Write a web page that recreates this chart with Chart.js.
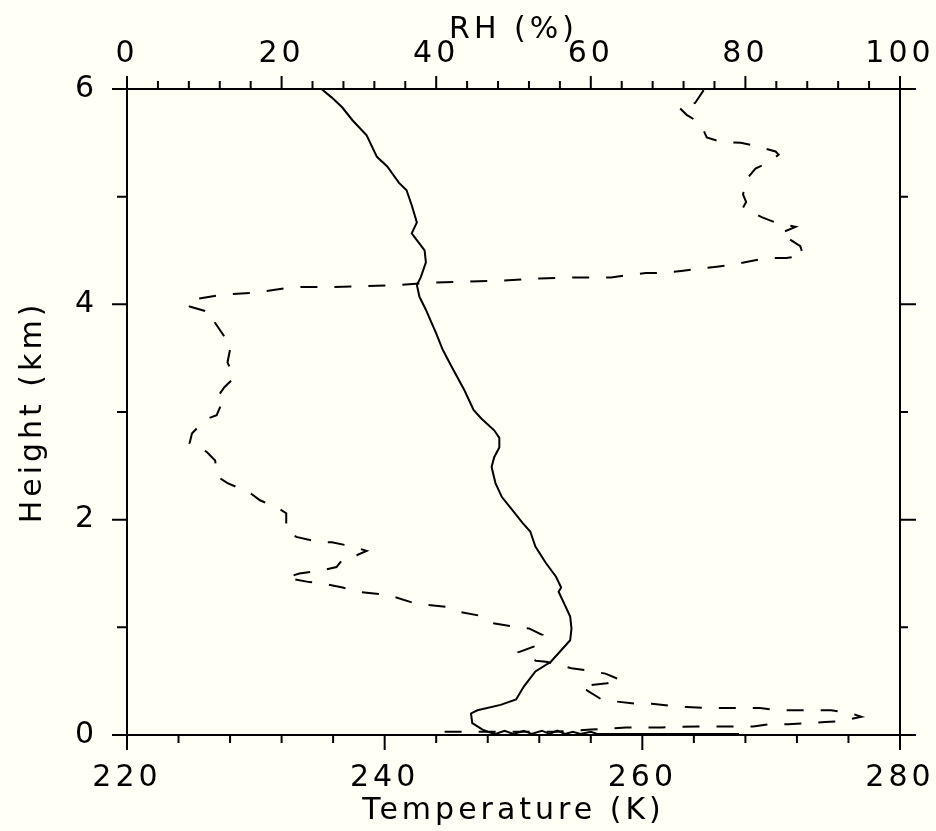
<!DOCTYPE html>
<html>
<head>
<meta charset="utf-8">
<script src="https://cdn.jsdelivr.net/npm/chart.js@4.4.1/dist/chart.umd.min.js"></script>
<style>
  html, body { margin: 0; padding: 0; background: #fffff5; }
  #wrap { width: 936px; height: 831px; }
</style>
</head>
<body>
<div id="wrap"><canvas id="profileChart" width="936" height="831"></canvas></div>
<script>
// temperature profile (solid line): height in km, temperature in K
var tempHeight = [6.0, 5.92, 5.83, 5.71, 5.57, 5.37, 5.28, 5.13, 5.06, 4.92, 4.76, 4.66, 4.50, 4.39, 4.25, 4.18, 4.07, 3.95, 3.84, 3.73,
                  3.58, 3.42, 3.20, 3.02, 2.94, 2.83, 2.76, 2.67, 2.58, 2.49, 2.34, 2.21, 2.09, 1.97, 1.89, 1.75, 1.60, 1.47, 1.37, 1.33,
                  1.23, 1.10, 0.99, 0.88, 0.68, 0.59, 0.45, 0.33, 0.28, 0.23, 0.20, 0.11, 0.05, 0.03, 0.01, 0.04, 0.01, 0.04, 0.01, 0.04,
                  0.01, 0.04, 0.01, 0.03, 0.01, 0.03, 0.01, 0.01];
var tempK = [235.1, 235.9, 236.7, 237.5, 238.6, 239.4, 240.2, 241.1, 241.7, 242.1, 242.5, 242.1, 243.1, 243.2, 242.8, 242.5, 242.7, 243.2, 243.6, 244.0,
             244.5, 245.2, 246.2, 246.9, 247.5, 248.5, 248.9, 248.9, 248.5, 248.3, 248.6, 249.1, 249.9, 250.7, 251.3, 251.7, 252.5, 253.3, 253.7, 253.5,
             253.9, 254.4, 254.5, 254.4, 252.9, 251.7, 250.8, 250.2, 249.0, 247.2, 246.7, 246.8, 247.6, 248.0, 248.6, 249.3, 250.0, 250.8, 251.4, 252.2,
             252.8, 253.4, 254.0, 254.6, 255.2, 256.0, 256.5, 267.5];

// relative humidity profile (dashed line): height in km, RH in %
var rhHeight = [5.99, 5.87, 5.83, 5.76, 5.68, 5.55, 5.51, 5.50, 5.47, 5.42, 5.39, 5.32, 5.26, 5.15, 5.02, 4.95, 4.90, 4.81, 4.76, 4.72,
                4.66, 4.54, 4.45, 4.43, 4.43, 4.40, 4.37, 4.35, 4.33, 4.31, 4.29, 4.29, 4.27, 4.25, 4.25, 4.24, 4.22, 4.21, 4.20, 4.18,
                4.17, 4.16, 4.16, 4.11, 4.09, 4.05, 4.00, 3.98, 3.92, 3.86, 3.70, 3.64, 3.46, 3.32, 3.23, 3.13, 3.09, 2.97, 2.93, 2.80,
                2.71, 2.63, 2.55, 2.40, 2.34, 2.25, 2.18, 2.11, 2.06, 1.90, 1.84, 1.79, 1.79, 1.75, 1.71, 1.67, 1.63, 1.56, 1.53, 1.50,
                1.46, 1.42, 1.41, 1.37, 1.33, 1.31, 1.29, 1.23, 1.21, 1.19, 1.14, 1.11, 1.04, 1.01, 0.99, 0.93, 0.88, 0.82, 0.77, 0.69,
                0.68, 0.62, 0.60, 0.57, 0.51, 0.48, 0.46, 0.44, 0.42, 0.33, 0.31, 0.29, 0.29, 0.27, 0.26, 0.25, 0.25, 0.25, 0.25, 0.23,
                0.23, 0.23, 0.23, 0.20, 0.17, 0.13, 0.12, 0.11, 0.10, 0.10, 0.08, 0.08, 0.08, 0.07, 0.07, 0.05, 0.03, 0.03, 0.03, 0.03];
var rhPct = [74.6, 73.5, 71.4, 72.4, 74.2, 75.0, 76.8, 79.4, 81.4, 83.9, 84.3, 83.0, 81.3, 80.0, 79.7, 80.1, 79.7, 82.1, 83.9, 86.5,
             84.5, 87.1, 87.5, 85.3, 82.7, 80.6, 78.5, 76.3, 73.9, 71.7, 69.2, 67.1, 64.6, 62.6, 58.1, 53.3, 48.5, 43.9, 39.1, 35.2,
             31.0, 26.2, 21.4, 16.8, 12.4, 9.0, 7.7, 8.1, 11.0, 11.1, 12.6, 13.5, 13.0, 13.9, 12.6, 11.6, 12.3, 11.6, 10.1, 8.4,
             8.1, 10.3, 11.4, 11.7, 13.0, 15.9, 17.2, 19.5, 20.6, 20.6, 21.9, 24.9, 26.5, 29.2, 31.0, 29.7, 27.9, 27.1, 25.3, 22.3,
             20.6, 23.6, 25.2, 27.9, 29.7, 32.6, 34.3, 36.9, 38.7, 41.3, 43.2, 45.5, 47.2, 49.8, 52.0, 53.7, 52.4, 52.6, 50.7, 52.9,
             54.2, 57.5, 59.5, 61.9, 63.9, 62.1, 59.4, 58.7, 59.4, 61.4, 63.4, 65.8, 67.9, 70.5, 72.4, 75.0, 77.2, 79.5, 81.9, 84.3,
             86.5, 89.0, 91.1, 93.7, 95.0, 92.4, 90.3, 87.9, 85.5, 83.0, 81.0, 78.5, 73.9, 69.2, 64.6, 60.0, 55.5, 49.4, 43.9, 40.4];

// axis ranges and labelled ticks
var tempTicks = [220, 240, 260, 280];
var rhTicks = [0, 20, 40, 60, 80, 100];
var heightTicks = [0, 2, 4, 6];
var tempMinorStep = 4, rhMinorStep = 4, heightMinorStep = 1;

var FONT = { family: 'DejaVu Sans', size: 30 };
var INK = '#000000';

function points(xs, ys) {
    var out = [];
    for (var i = 0; i < xs.length; i++) out.push({ x: xs[i], y: ys[i] });
    return out;
}

// axis lines running past the corners and ticks drawn outside, like the original plot
var frameTicks = {
    id: 'frameTicks',
    beforeDraw: function (chart) {
        chart.ctx.letterSpacing = '4px';
    },
    afterDraw: function (chart) {
        var ctx = chart.ctx, a = chart.chartArea;
        var sx = chart.scales.x, sr = chart.scales.xRH, sy = chart.scales.y;
        var ext = 13, v;
        ctx.save();
        ctx.strokeStyle = INK;
        ctx.lineWidth = 2;
        ctx.beginPath();
        ctx.moveTo(a.left - ext, a.top); ctx.lineTo(a.right + ext, a.top);
        ctx.moveTo(a.left - ext, a.bottom); ctx.lineTo(a.right + ext, a.bottom);
        ctx.moveTo(a.left, a.top - ext); ctx.lineTo(a.left, a.bottom + ext);
        ctx.moveTo(a.right, a.top - ext); ctx.lineTo(a.right, a.bottom + ext);
        // bottom: temperature
        for (v = sx.min; v <= sx.max + 0.001; v += tempMinorStep) {
            var px = sx.getPixelForValue(v);
            ctx.moveTo(px, a.bottom);
            ctx.lineTo(px, a.bottom + (tempTicks.indexOf(v) >= 0 ? 15 : 8));
        }
        // top: RH
        for (v = sr.min; v <= sr.max + 0.001; v += rhMinorStep) {
            var qx = sr.getPixelForValue(v);
            ctx.moveTo(qx, a.top);
            ctx.lineTo(qx, a.top - (rhTicks.indexOf(v) >= 0 ? 13 : 8));
        }
        // left and right: height
        for (v = sy.min; v <= sy.max + 0.001; v += heightMinorStep) {
            var py = sy.getPixelForValue(v);
            var major = heightTicks.indexOf(v) >= 0;
            ctx.moveTo(a.left, py); ctx.lineTo(a.left - (major ? 15 : 10), py);
            ctx.moveTo(a.right, py); ctx.lineTo(a.right + (major ? 16 : 8), py);
        }
        ctx.stroke();
        ctx.restore();
    }
};

function fixHorizontal(h) {
    return function (s) {
        s.height = h;
        s.paddingLeft = 0;
        s.paddingRight = 0;
    };
}

var ctx = document.getElementById('profileChart').getContext('2d');
var chart = new Chart(ctx, {
    type: 'scatter',
    data: {
        datasets: [{
            label: 'Temperature',
            data: points(tempK, tempHeight),
            xAxisID: 'x',
            yAxisID: 'y',
            showLine: true,
            borderColor: INK,
            borderWidth: 2,
            pointRadius: 0,
            tension: 0
        }, {
            label: 'RH',
            data: points(rhPct, rhHeight),
            xAxisID: 'xRH',
            yAxisID: 'y',
            showLine: true,
            borderColor: INK,
            borderWidth: 2,
            borderDash: [17, 17],
            pointRadius: 0,
            tension: 0
        }]
    },
    options: {
        responsive: false,
        animation: false,
        events: [],
        layout: { padding: { left: 0, right: 36, top: 0, bottom: 0 } },
        plugins: { legend: { display: false }, tooltip: { enabled: false } },
        scales: {
            x: {
                type: 'linear', position: 'bottom', min: 220, max: 280,
                grid: { display: false, drawTicks: false },
                border: { display: false },
                afterBuildTicks: function (s) { s.ticks = tempTicks.map(function (t) { return { value: t }; }); },
                ticks: { color: INK, font: FONT, padding: 25, maxRotation: 0 },
                title: { display: true, text: 'Temperature (K)', color: INK, font: FONT, padding: { top: 0, bottom: 2 } },
                afterFit: fixHorizontal(96)
            },
            xRH: {
                type: 'linear', position: 'top', min: 0, max: 100,
                grid: { display: false, drawTicks: false },
                border: { display: false },
                afterBuildTicks: function (s) { s.ticks = rhTicks.map(function (t) { return { value: t }; }); },
                ticks: { color: INK, font: FONT, padding: 17, maxRotation: 0 },
                title: { display: true, text: 'RH (%)', color: INK, font: FONT, padding: { top: 12, bottom: 0 } },
                afterFit: fixHorizontal(89)
            },
            y: {
                type: 'linear', position: 'left', min: 0, max: 6,
                grid: { display: false, drawTicks: false },
                border: { display: false },
                afterBuildTicks: function (s) { s.ticks = heightTicks.map(function (t) { return { value: t }; }); },
                ticks: { color: INK, font: FONT, padding: 29 },
                title: { display: true, text: 'Height (km)', color: INK, font: FONT, padding: { top: 15, bottom: 0 } },
                afterFit: function (s) { s.width = 127; s.paddingTop = 0; s.paddingBottom = 0; }
            }
        }
    },
    plugins: [frameTicks]
});
</script>
</body>
</html>
